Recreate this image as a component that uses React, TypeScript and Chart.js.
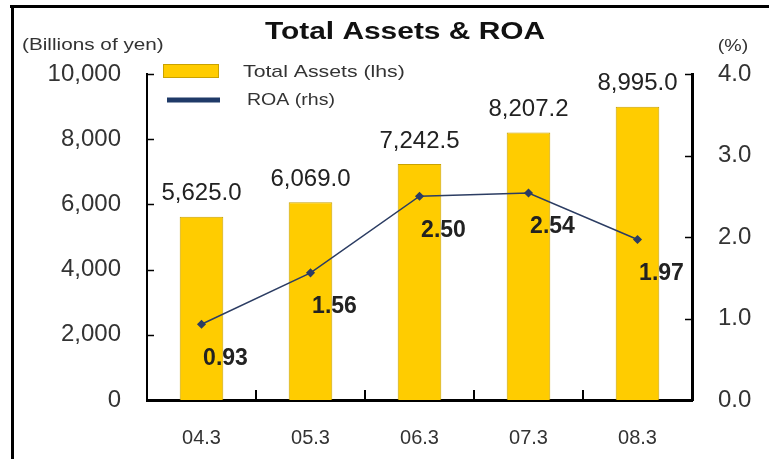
import React, { useEffect, useRef } from "react";
import { Chart, registerables } from "chart.js";
Chart.register(...registerables);

const categories = ["04.3", "05.3", "06.3", "07.3", "08.3"];
const totalAssets = [5625.0, 6069.0, 7242.5, 8207.2, 8995.0];
const roa = [0.93, 1.56, 2.5, 2.54, 1.97];
const leftTickValues = [0, 2000, 4000, 6000, 8000, 10000];
const rightTickValues = [0, 1, 2, 3, 4];
const chartTitle = "Total Assets & ROA";
const leftUnit = "(Billions of yen)";
const rightUnit = "(%)";
const seriesNames = ["Total Assets (lhs)", "ROA (rhs)"];

const GOLD = "#FFCC00";
const GOLD_EDGE = "#C9A200";
const NAVY = "#2C3D63";
const TEXT = "#333333";
const FONT = "'Liberation Sans', Arial, sans-serif";

function drawText(
  ctx: CanvasRenderingContext2D,
  text: string,
  x: number,
  y: number,
  font: string,
  color: string,
  align: CanvasTextAlign,
  sx: number
) {
  ctx.save();
  ctx.font = font;
  ctx.fillStyle = color;
  ctx.textBaseline = "middle";
  ctx.textAlign = align;
  ctx.translate(x, y);
  ctx.scale(sx, 1);
  ctx.fillText(text, 0, 0);
  ctx.restore();
}

const decorPlugin = {
  id: "decor",
  beforeDraw(chart: any) {
    const ctx = chart.ctx as CanvasRenderingContext2D;
    ctx.save();
    ctx.fillStyle = "#ffffff";
    ctx.fillRect(0, 0, chart.width, chart.height);
    ctx.fillStyle = "#000000";
    ctx.fillRect(10, 5, chart.width - 10, 3);
    ctx.fillRect(11, 5, 3, chart.height - 5);
    ctx.restore();
  },
  afterDraw(chart: any) {
    const ctx = chart.ctx as CanvasRenderingContext2D;
    const area = chart.chartArea;
    const y = chart.scales.y;
    const y1 = chart.scales.y1;
    const x = chart.scales.x;

    // inner ticks
    ctx.save();
    ctx.strokeStyle = "#000";
    ctx.lineWidth = 1.5;
    leftTickValues.forEach((v) => {
      const py = Math.round(y.getPixelForValue(v)) + 0.5;
      ctx.beginPath();
      ctx.moveTo(area.left, py);
      ctx.lineTo(area.left + 7, py);
      ctx.stroke();
    });
    rightTickValues.forEach((v) => {
      const py = Math.round(y1.getPixelForValue(v)) + 0.5;
      ctx.beginPath();
      ctx.moveTo(area.right - 7, py);
      ctx.lineTo(area.right, py);
      ctx.stroke();
    });
    ctx.lineWidth = 2;
    for (let i = 1; i < categories.length; i++) {
      const px = (x.getPixelForTick(i - 1) + x.getPixelForTick(i)) / 2;
      ctx.beginPath();
      ctx.moveTo(px, area.bottom);
      ctx.lineTo(px, area.bottom - 10);
      ctx.stroke();
    }
    ctx.restore();

    // title and units
    drawText(ctx, chartTitle, 405, 33, `bold 23px ${FONT}`, "#111", "center", 1.3);
    drawText(ctx, leftUnit, 22, 45, `17px ${FONT}`, TEXT, "left", 1.22);
    drawText(ctx, rightUnit, 733, 46, `17px ${FONT}`, TEXT, "center", 1.15);

    // legend
    ctx.save();
    ctx.fillStyle = GOLD;
    ctx.fillRect(163, 64, 56, 14);
    ctx.strokeStyle = GOLD_EDGE;
    ctx.lineWidth = 1;
    ctx.strokeRect(163.5, 64.5, 55, 13);
    ctx.strokeStyle = "#1F3A68";
    ctx.lineWidth = 5;
    ctx.beginPath();
    ctx.moveTo(167, 100);
    ctx.lineTo(220, 100);
    ctx.stroke();
    ctx.restore();
    drawText(ctx, seriesNames[0], 243, 72, `17px ${FONT}`, TEXT, "left", 1.25);
    drawText(ctx, seriesNames[1], 247, 100, `17px ${FONT}`, TEXT, "left", 1.15);

    // data labels
    const barMeta = chart.getDatasetMeta(1);
    barMeta.data.forEach((el: any, i: number) => {
      const label = totalAssets[i].toLocaleString("en-US", {
        minimumFractionDigits: 1,
        maximumFractionDigits: 1,
      });
      drawText(ctx, label, el.x, el.y - 23, `24px ${FONT}`, "#222", "center", 1.0);
    });
    const lineMeta = chart.getDatasetMeta(0);
    lineMeta.data.forEach((el: any, i: number) => {
      drawText(ctx, roa[i].toFixed(2), el.x + 24, el.y + 34, `bold 23px ${FONT}`, "#222", "center", 1.0);
    });
  },
};

export default function App() {
  const canvasRef = useRef<HTMLCanvasElement | null>(null);

  useEffect(() => {
    document.body.style.margin = "0";
    const canvas = canvasRef.current;
    if (!canvas) return;
    const chart = new Chart(canvas, {
      type: "bar",
      data: {
        labels: categories,
        datasets: [
          {
            type: "line",
            label: seriesNames[1],
            data: roa,
            yAxisID: "y1",
            borderColor: NAVY,
            backgroundColor: NAVY,
            borderWidth: 1.5,
            pointStyle: "rectRot",
            pointRadius: 3.5,
            pointBackgroundColor: NAVY,
            pointBorderColor: NAVY,
            tension: 0,
            order: 0,
          } as any,
          {
            type: "bar",
            label: seriesNames[0],
            data: totalAssets,
            yAxisID: "y",
            backgroundColor: GOLD,
            borderColor: GOLD_EDGE,
            borderWidth: 1,
            barPercentage: 0.4,
            categoryPercentage: 1.0,
            order: 1,
          } as any,
        ],
      },
      options: {
        responsive: false,
        animation: false,
        layout: { padding: { top: 74, left: 0, right: 0, bottom: 0 } },
        plugins: {
          legend: { display: false },
          title: { display: false },
          tooltip: { enabled: false },
        },
        scales: {
          x: {
            type: "category",
            offset: true,
            grid: { display: false, drawTicks: false },
            border: { display: true, color: "#000", width: 3 },
            ticks: {
              color: TEXT,
              font: { family: FONT, size: 20 },
              padding: 26,
            },
            afterFit(scale: any) {
              scale.height = 59;
            },
          },
          y: {
            type: "linear",
            position: "left",
            min: 0,
            max: 10000,
            grid: { display: false, drawTicks: false },
            border: { display: true, color: "#000", width: 2 },
            ticks: {
              stepSize: 2000,
              color: TEXT,
              font: { family: FONT, size: 24 },
              padding: 26,
              callback: (v: any) => Number(v).toLocaleString("en-US"),
            },
            afterFit(scale: any) {
              scale.width = 147;
            },
          },
          y1: {
            type: "linear",
            position: "right",
            min: 0,
            max: 4,
            grid: { display: false, drawTicks: false },
            border: { display: true, color: "#000", width: 3 },
            ticks: {
              stepSize: 1,
              color: TEXT,
              font: { family: FONT, size: 24 },
              padding: 26,
              callback: (v: any) => Number(v).toFixed(1),
            },
            afterFit(scale: any) {
              scale.width = 77;
            },
          },
        },
      },
      plugins: [decorPlugin],
    });
    return () => chart.destroy();
  }, []);

  return (
    <div style={{ width: 769, height: 459 }}>
      <canvas ref={canvasRef} width={769} height={459} style={{ display: "block" }} />
    </div>
  );
}
